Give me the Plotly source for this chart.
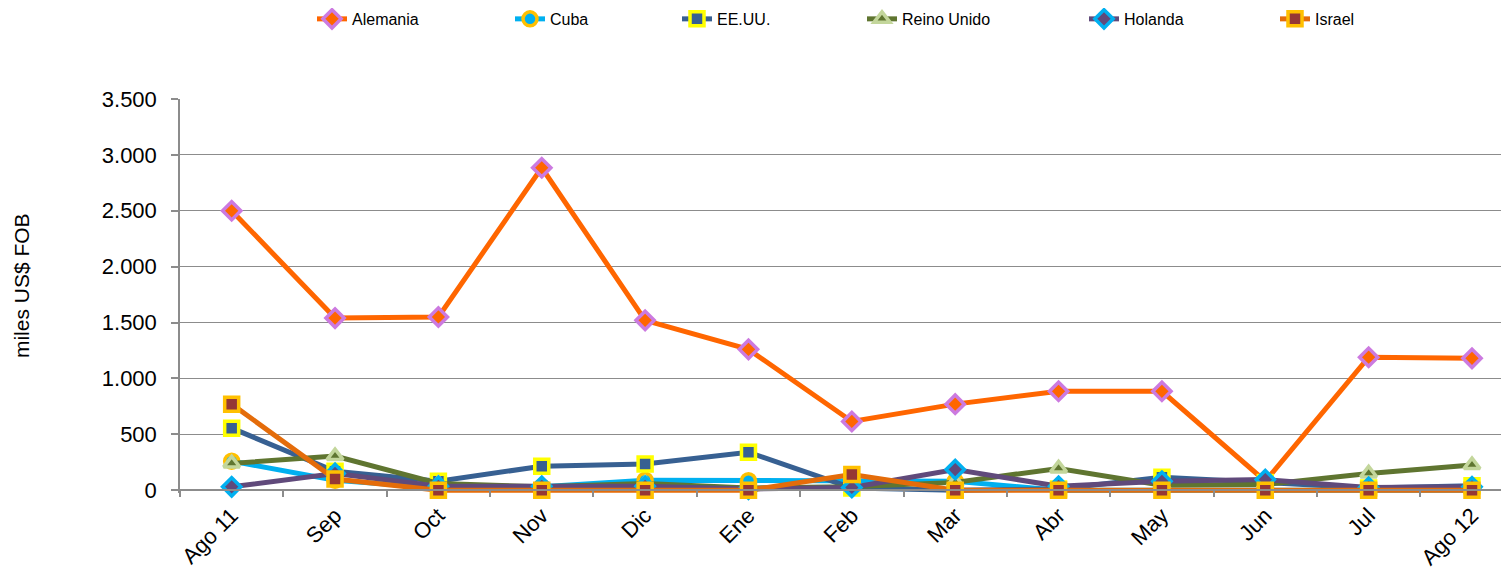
import plotly.graph_objects as go

months = ["Ago 11", "Sep", "Oct", "Nov", "Dic", "Ene", "Feb", "Mar", "Abr", "May", "Jun", "Jul", "Ago 12"]
alemania = [2500, 1540, 1550, 2885, 1520, 1260, 615, 770, 885, 885, 80, 1190, 1180]
cuba = [260, 90, 20, 30, 90, 85, 80, 80, 0, 0, 0, 0, 0]
eeuu = [555, 170, 80, 215, 235, 340, 20, 0, 10, 115, 70, 20, 40]
reino_unido = [240, 305, 60, 30, 60, 20, 30, 70, 195, 45, 50, 150, 225]
holanda = [30, 150, 35, 35, 35, 10, 25, 185, 35, 80, 95, 25, 30]
israel = [770, 100, 0, 0, 0, 0, 140, 0, 0, 0, 0, 0, 0]

ytick_vals = [0, 500, 1000, 1500, 2000, 2500, 3000, 3500]
ytick_text = ["0", "500", "1.000", "1.500", "2.000", "2.500", "3.000", "3.500"]

series = [
    ("Alemania", alemania, "#FF6600", "diamond", "#FF6600", "#CC7AE0"),
    ("Cuba", cuba, "#00B0F0", "circle", "#00B0F0", "#FFC000"),
    ("EE.UU.", eeuu, "#376092", "square", "#376092", "#FFFF00"),
    ("Reino Unido", reino_unido, "#5F7530", "triangle-up", "#5F7530", "#C3D69B"),
    ("Holanda", holanda, "#604A7B", "diamond", "#604A7B", "#00B0F0"),
    ("Israel", israel, "#E46C0A", "square", "#953735", "#FFC000"),
]
legend_text_x = [352, 550, 717, 902, 1124, 1315]

# the page body adds an 8px offset; layout is expressed in figure pixels
OFF = 8
W, H = 1509, 573
L = 180 - OFF
T = 99 - OFF
R = OFF
ybot = 492.8 - OFF
plot_w = W - L - R
plot_h = ybot - T

fig = go.Figure()
layout_legends = {}
for i, (name, vals, lc, sym, fc, bc) in enumerate(series):
    lg = "legend" if i == 0 else f"legend{i+1}"
    fig.add_trace(go.Scatter(
        x=months, y=vals, name=name, mode="lines+markers",
        line=dict(color=lc, width=5),
        marker=dict(symbol=sym, size=14, color=fc, line=dict(color=bc, width=3.5)),
        cliponaxis=False, legend=lg,
    ))
    layout_legends[lg] = dict(
        x=(legend_text_x[i] - 48 - L) / plot_w, xanchor="left",
        y=(ybot - (19 - OFF)) / plot_h, yanchor="middle",
        orientation="h", bgcolor="rgba(0,0,0,0)",
        font=dict(family="Liberation Sans, Arial", size=16, color="#000000"),
        itemwidth=30, tracegroupgap=0,
    )

fig.update_layout(
    width=W, height=H,
    margin=dict(l=L, r=R, t=T, b=H - ybot, autoexpand=False),
    plot_bgcolor="white", paper_bgcolor="white",
    showlegend=True,
    font=dict(family="Liberation Sans, Arial", color="#000000"),
    xaxis=dict(
        type="category", range=[-0.5, 12.358],
        anchor="free", position=25 / 3525,
        showline=True, linecolor="#8C8C8C", linewidth=1.5,
        ticks="outside", tickson="boundaries", ticklen=6, tickcolor="#8C8C8C", tickwidth=1.5,
        ticklabelstandoff=3,
        tickangle=-45, tickfont=dict(size=22, family="Liberation Sans, Arial", color="#000000"),
        showgrid=False, zeroline=False, automargin=False,
    ),
    yaxis=dict(
        range=[-25, 3500], tickvals=ytick_vals, ticktext=ytick_text,
        showline=True, linecolor="#8C8C8C", linewidth=1.5,
        ticks="outside", ticklen=7, tickcolor="#8C8C8C", tickwidth=1.5,
        ticklabelstandoff=10,
        showgrid=True, gridcolor="#8C8C8C", gridwidth=1.2,
        zeroline=False, automargin=False,
        tickfont=dict(size=22, family="Liberation Sans, Arial", color="#000000"),
    ),
    annotations=[dict(
        text="miles US$ FOB", textangle=-90, showarrow=False,
        xref="paper", yref="paper",
        x=(21 - OFF - L) / plot_w, xanchor="center",
        y=(ybot - (286 - OFF)) / plot_h, yanchor="middle",
        font=dict(size=21, family="Liberation Sans, Arial", color="#000000"),
    )],
    **layout_legends,
)

fig.write_html("out.html")
